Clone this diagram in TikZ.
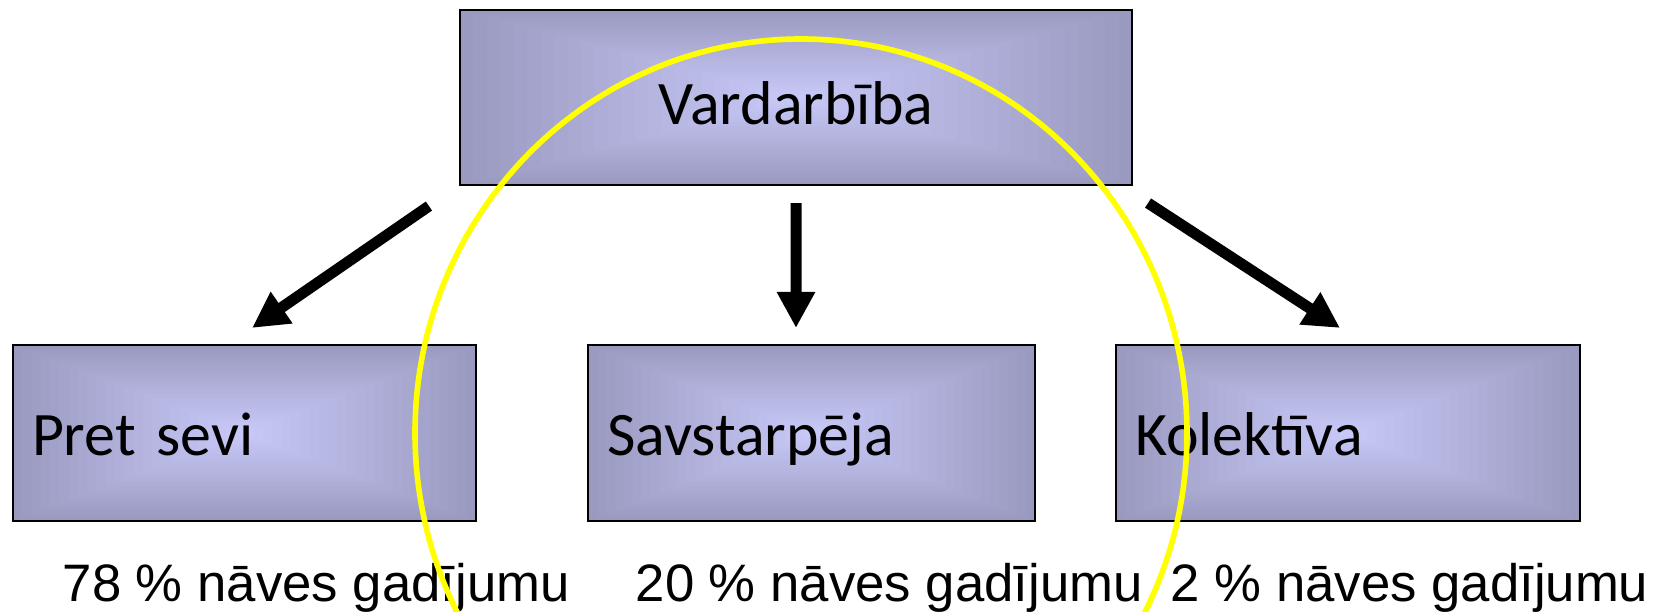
\documentclass[tikz,border=0pt]{standalone}
\usepackage{fontspec}
\setmainfont{Carlito}
\newfontfamily\arialf{Liberation Sans}
\usetikzlibrary{arrows.meta,calc}

\definecolor{blokdark}{RGB}{154,154,192}
\definecolor{bloklite}{RGB}{200,200,248}
\definecolor{lokyellow}{RGB}{255,255,0}

\tikzset{
	blok/.style={draw, line width=0.6pt, minimum height=1.76cm, inner xsep=1.9mm,
		text height=5mm, text depth=0.6mm,
		font=\fontsize{17.6}{21}\selectfont,
		path picture={
			\foreach \k in {0,...,24}{
				\pgfmathsetmacro\f{1-\k/25}
				\pgfmathtruncatemacro\p{100*\k/24}
				\fill[bloklite!\p!blokdark]
				($(path picture bounding box.center)!\f!(path picture bounding box.south west)$)
				rectangle
				($(path picture bounding box.center)!\f!(path picture bounding box.north east)$);
			}
		}},
	bultta/.style={line width=1.1mm, -{Triangle[length=3.6mm, width=3.6mm]}},
	piez/.style={anchor=base west, inner sep=0pt, font=\arialf\fontsize{15}{18}\selectfont}
}

\begin{document}
\begin{tikzpicture}
	\useasboundingbox (0,0) rectangle (16.68,6.11);
	% bloki
	\node[blok, text width=6.34cm, align=center, minimum height=1.75cm, text height=5.5mm, text depth=0.1mm] (vard) at (7.96,5.135) {Vardarbība};
	\node[blok, text width=4.25cm, align=left] (pret) at (2.445,1.78) {Pret sevi};
	\node[blok, text width=4.09cm, align=left] (savst) at (8.115,1.78) {Savstarpēja};
	\node[blok, text width=4.26cm, align=left] (kolekt) at (13.48,1.78) {Kolektīva};
	% bultas
	\draw[bultta] ([xshift=-3mm,yshift=-2mm]vard.south west) -- ([xshift=0.75mm,yshift=1.6mm]pret.north);
	\draw[bultta] ([yshift=-1.7mm]vard.south) -- ([xshift=-1.55mm,yshift=1.6mm]savst.north);
	\draw[bultta] ([xshift=1.5mm,yshift=-1.7mm]vard.south east) -- ([xshift=-0.8mm,yshift=1.6mm]kolekt.north);
	% piezimes
	\node[piez] (p78) at (0.62,0.10) {78 \% nāves gadījumu};
	\node[piez] (p20) at (6.35,0.10) {20 \% nāves gadījumu};
	\node[piez] (p2) at (11.70,0.10) {2 \% nāves gadījumu};
	% loks
	\begin{scope}
		\clip (0,0) rectangle (16.68,6.11);
		\draw[lokyellow, line width=1.6pt] (8.01,1.78) ellipse [x radius=3.86, y radius=3.94];
	\end{scope}
\end{tikzpicture}
\end{document}
